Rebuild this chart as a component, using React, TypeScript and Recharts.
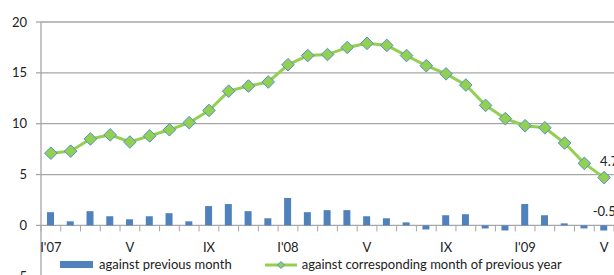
import React from "react";
import { ComposedChart, Bar, Line, XAxis, YAxis, CartesianGrid, LabelList } from "recharts";

const months = [
  "I'07", "II", "III", "IV", "V", "VI", "VII", "VIII", "IX", "X", "XI", "XII",
  "I'08", "II", "III", "IV", "V", "VI", "VII", "VIII", "IX", "X", "XI", "XII",
  "I'09", "II", "III", "IV", "V",
];
const againstPreviousMonth = [
  1.3, 0.4, 1.4, 0.9, 0.6, 0.9, 1.2, 0.4, 1.9, 2.1, 1.4, 0.7,
  2.7, 1.3, 1.5, 1.5, 0.9, 0.7, 0.3, -0.4, 1.0, 1.1, -0.3, -0.5,
  2.1, 1.0, 0.2, -0.3, -0.5,
];
const againstPreviousYear = [
  7.1, 7.3, 8.5, 8.9, 8.2, 8.8, 9.4, 10.1, 11.3, 13.2, 13.7, 14.1,
  15.8, 16.7, 16.8, 17.5, 17.9, 17.7, 16.7, 15.7, 14.9, 13.8, 11.8, 10.5,
  9.8, 9.6, 8.1, 6.1, 4.7,
];
const yTicks = [-5, 0, 5, 10, 15, 20];
const seriesNames = ["against previous month", "against corresponding month of previous year"];

const data = months.map((m, i) => ({
  key: i,
  month: m,
  mom: againstPreviousMonth[i],
  yoy: againstPreviousYear[i],
}));

const W = 614;
const H = 330;
const TOP = 22;
const LEFT = 41;
const PLOT_H = 254.25;
const X_AXIS_H = 30;
const PLOT_W = W - LEFT;
const Y_MIN = -5;
const Y_MAX = 20;
const ZERO_Y = TOP + (PLOT_H * (Y_MAX - 0)) / (Y_MAX - Y_MIN);
const STEP = PLOT_W / months.length;
const FONT = "Lato, 'Open Sans', sans-serif";
const GRID = "#a6a6a6";
const BLUE = "#4f81bd";
const GREEN = "#92d050";
const DOT_STROKE = "#558ed5";
const LAST = months.length - 1;

const XTick = (props: any) => {
  const { x, index } = props;
  const label = months[index];
  return (
    <g>
      <line x1={x - STEP / 2} x2={x - STEP / 2} y1={ZERO_Y} y2={ZERO_Y + 6} stroke={GRID} strokeWidth={1} />
      {index === LAST && (
        <line x1={x + STEP / 2} x2={x + STEP / 2} y1={ZERO_Y} y2={ZERO_Y + 6} stroke={GRID} strokeWidth={1} />
      )}
      {index % 4 === 0 && (
        <text x={x} y={ZERO_Y + 27} textAnchor="middle" fontSize={13} fontFamily={FONT} fill="#222">
          {label}
        </text>
      )}
    </g>
  );
};

const Diamond = (props: any) => {
  const { cx, cy, index } = props;
  if (cx == null || cy == null) return null;
  const r = 6.3;
  return (
    <path
      key={`d-${index}`}
      d={`M${cx},${cy - r} L${cx + r},${cy} L${cx},${cy + r} L${cx - r},${cy} Z`}
      fill={GREEN}
      stroke={DOT_STROKE}
      strokeWidth={1}
    />
  );
};

const LineLabel = (props: any) => {
  const { x, y, index, value } = props;
  if (index !== LAST) return null;
  return (
    <text x={x - 4} y={y - 11.5} fontSize={13} fontFamily={FONT} fill="#222">
      {value}
    </text>
  );
};

const BarLabel = (props: any) => {
  const { x, y, width, height, index, value } = props;
  if (index !== LAST) return null;
  const top = Math.min(y, y + height);
  return (
    <text x={x + width / 2 - 11} y={top - 9} fontSize={13} fontFamily={FONT} fill="#222">
      {Number(value).toFixed(1)}
    </text>
  );
};

const LegendBox = () => (
  <div
    style={{
      position: "absolute",
      left: 60,
      top: 257,
      display: "flex",
      alignItems: "center",
      fontFamily: FONT,
      fontSize: 13,
      lineHeight: "15px",
      color: "#222",
      whiteSpace: "nowrap",
    }}
  >
    <svg width={33} height={7} style={{ display: "block" }}>
      <rect x={0} y={0} width={33} height={7} fill={BLUE} />
    </svg>
    <span style={{ marginLeft: 6 }}>{seriesNames[0]}</span>
    <svg width={32} height={14} style={{ display: "block", marginLeft: 33 }}>
      <line x1={0} x2={32} y1={7} y2={7} stroke={GREEN} strokeWidth={3} />
      <path d="M16,3.5 L19.5,7 L16,10.5 L12.5,7 Z" fill={GREEN} stroke={DOT_STROKE} strokeWidth={1} />
    </svg>
    <span style={{ marginLeft: 5 }}>{seriesNames[1]}</span>
  </div>
);

export default function App() {
  return (
    <div style={{ position: "absolute", left: 0, top: 0, width: W, height: 275, overflow: "hidden", background: "#fff" }}>
      <ComposedChart
        width={W}
        height={H}
        data={data}
        margin={{ top: TOP, right: 0, left: 0, bottom: H - TOP - PLOT_H - X_AXIS_H }}
        barSize={7}
      >
        <CartesianGrid horizontal vertical={false} stroke={GRID} strokeWidth={1.3} />
        <XAxis
          dataKey="key"
          type="category"
          height={X_AXIS_H}
          axisLine={false}
          tickLine={false}
          interval={0}
          tick={<XTick />}
        />
        <YAxis
          width={LEFT}
          domain={[Y_MIN, Y_MAX]}
          ticks={yTicks}
          interval={0}
          axisLine={{ stroke: GRID, strokeWidth: 1.3 }}
          tickLine={{ stroke: GRID, strokeWidth: 1.3 }}
          tickSize={5}
          tickMargin={9}
          tick={{ fontSize: 13, fontFamily: FONT, fill: "#222" }}
        />
        <Bar dataKey="mom" fill={BLUE} isAnimationActive={false}>
          <LabelList dataKey="mom" content={<BarLabel />} />
        </Bar>
        <Line
          dataKey="yoy"
          stroke={GREEN}
          strokeWidth={3}
          dot={<Diamond />}
          activeDot={false}
          isAnimationActive={false}
        >
          <LabelList dataKey="yoy" content={<LineLabel />} />
        </Line>
      </ComposedChart>
      <LegendBox />
    </div>
  );
}
